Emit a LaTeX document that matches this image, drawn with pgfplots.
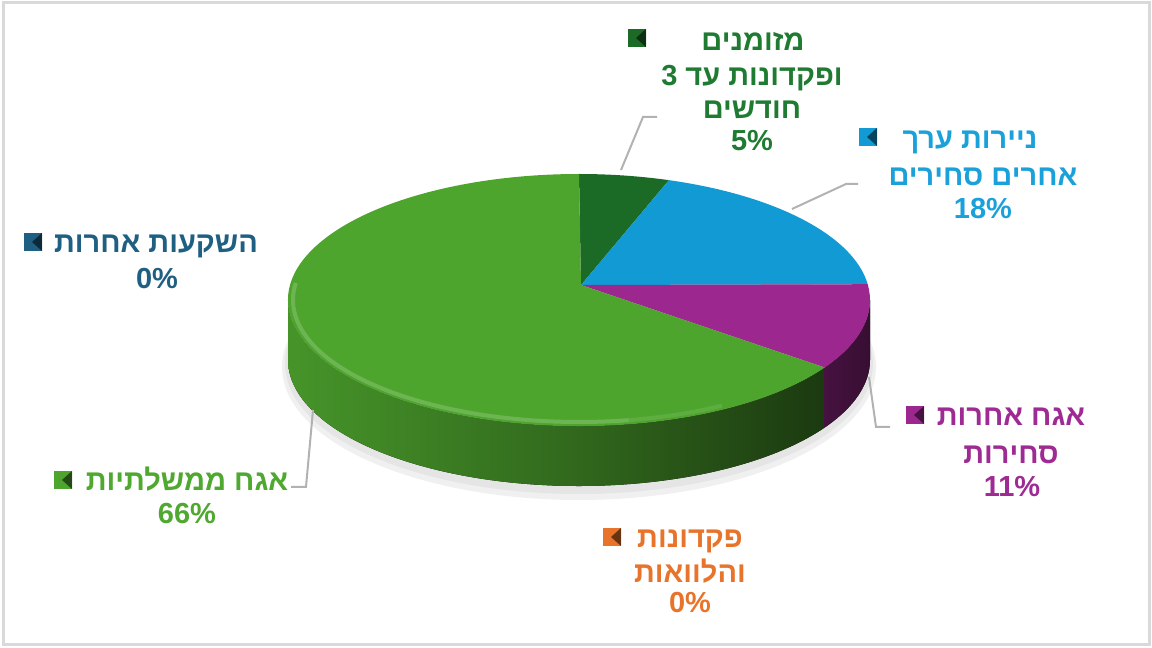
\documentclass[border=0pt]{standalone}
\usepackage{pgfplots}
\pgfplotsset{compat=1.18}
\usepackage{pgfplotstable}
\usepackage{fontspec}
\setmainfont{Liberation Sans}
\newfontfamily\heb[Script=Hebrew]{Liberation Sans}
\TeXXeTstate=1

\definecolor{dgreen}{HTML}{1B6B27}
\definecolor{pblue}{HTML}{119AD3}
\definecolor{ppurple}{HTML}{9C288F}
\definecolor{pgreen}{HTML}{4EA52E}
\definecolor{porange}{HTML}{E8732A}
\definecolor{pnavy}{HTML}{1F5F82}
\definecolor{tdgreen}{HTML}{1E7B31}
\definecolor{tblue}{HTML}{1BA1DA}
\definecolor{tpurple}{HTML}{9E2B93}
\definecolor{tgreen}{HTML}{4FA830}

% shares in percent, clockwise from 12 o'clock
\pgfplotstableread{
share
5
18
11
0
66
0
}\piedata

\def\Sa{90}
\pgfplotstablegetelem{0}{share}\of\piedata \pgfmathsetmacro\Ea{\Sa-3.6*\pgfplotsretval}
\pgfplotstablegetelem{1}{share}\of\piedata \pgfmathsetmacro\Eb{\Ea-3.6*\pgfplotsretval}
\pgfplotstablegetelem{2}{share}\of\piedata \pgfmathsetmacro\Ec{\Eb-3.6*\pgfplotsretval}
\pgfplotstablegetelem{3}{share}\of\piedata \pgfmathsetmacro\Ed{\Ec-3.6*\pgfplotsretval}
\pgfplotstablegetelem{4}{share}\of\piedata \pgfmathsetmacro\Ee{\Ed-3.6*\pgfplotsretval}
\pgfmathsetmacro\Edp{\Ed+360}

% pie radii: 145.5pt and 63pt, depth 30pt
% top face of one slice: start angle, end angle, colour
\newcommand\slice[3]{%
  \fill[#3] (axis cs:581,-285) -- ([shift={(#1:145.5pt and 63pt)}]C)
    arc[start angle=#1, end angle=#2, x radius=145.5pt, y radius=63pt] -- cycle;}
% legend key square
\newcommand\key[3]{%
  \fill[#3] ([shift={(-4.5pt,-4.5pt)}]axis cs:#1,-#2) rectangle ([shift={(4.5pt,4.5pt)}]axis cs:#1,-#2);
  \fill[black,opacity=.55] ([shift={(4.5pt,-4.5pt)}]axis cs:#1,-#2) -- ([shift={(4.5pt,4.5pt)}]axis cs:#1,-#2)
     -- ([shift={(-0.5pt,0pt)}]axis cs:#1,-#2) -- cycle;}

\tikzset{lab/.style={font=\bfseries\fontsize{14.5pt}{17pt}\selectfont,
  inner sep=0pt, text height=10.4pt, text depth=0pt, anchor=center}}

\begin{document}
\begin{tikzpicture}
\begin{axis}[
  x=0.5pt, y=0.5pt,
  xmin=0, xmax=1152, ymin=-648, ymax=0,
  hide axis, clip=false,
]
\path (axis cs:0,0) rectangle (axis cs:1152,-648);
\draw[black!15, line width=1.5pt] (axis cs:3,-3) rectangle (axis cs:1149,-645);

\coordinate (C) at (axis cs:579,-300);
\coordinate (D) at (axis cs:579,-360);

% shadow
\fill[black!6] ([yshift=-3.5pt]D) ellipse[x radius=148.5pt, y radius=66.5pt];
\fill[black!10] ([yshift=-2pt]D) ellipse[x radius=147pt, y radius=65pt];

% sides
\fill[left color=pgreen!90!black, right color=pgreen!35!black, middle color=pgreen!65!black]
  ([shift={(180:145.5pt and 63pt)}]C) arc[start angle=180, end angle=\Edp, x radius=145.5pt, y radius=63pt]
  -- ([shift={(\Edp:145.5pt and 63pt)}]D) arc[start angle=\Edp, end angle=180, x radius=145.5pt, y radius=63pt] -- cycle;
\fill[left color=ppurple!45!black, right color=ppurple!35!black]
  ([shift={(\Ec:145.5pt and 63pt)}]C) arc[start angle=\Ec, end angle=0, x radius=145.5pt, y radius=63pt]
  -- ([shift={(0:145.5pt and 63pt)}]D) arc[start angle=0, end angle=\Ec, x radius=145.5pt, y radius=63pt] -- cycle;

% top faces
\slice{\Sa}{\Ea}{dgreen}
\slice{\Ea}{\Eb}{pblue}
\slice{\Eb}{\Ec}{ppurple}
\slice{\Ed}{\Ee}{pgreen}

% bevel highlight
\draw[line width=2pt, color=pgreen!70!white, opacity=.6]
  ([shift={(172:143pt and 61pt)}]C) arc[start angle=172, end angle=280, x radius=143pt, y radius=61pt];
\draw[line width=2pt, color=pgreen!70!white, opacity=.3]
  ([shift={(280:143pt and 61pt)}]C) arc[start angle=280, end angle=300, x radius=143pt, y radius=61pt];

% leader lines
\draw[black!30, line width=1pt] (axis cs:621,-170) -- (axis cs:643,-117) -- (axis cs:657,-117);
\draw[black!30, line width=1pt] (axis cs:792,-209) -- (axis cs:846,-184) -- (axis cs:858,-184);
\draw[black!30, line width=1pt] (axis cs:869,-377) -- (axis cs:876,-427) -- (axis cs:890,-427);
\draw[black!30, line width=1pt] (axis cs:313,-410) -- (axis cs:306,-487) -- (axis cs:291,-487);

% labels
\key{637}{38}{dgreen}
\node[lab, text=tdgreen] at (axis cs:753,-40) {\heb\beginR מזומנים\endR};
\node[lab, text=tdgreen] at (axis cs:752,-75) {\heb\beginR ופקדונות עד 3\endR};
\node[lab, text=tdgreen] at (axis cs:752,-108) {\heb\beginR חודשים\endR};
\node[lab, text=tdgreen] at (axis cs:752,-140) {5\%};

\key{868}{137}{pblue}
\node[lab, text=tblue] at (axis cs:970,-138) {\heb\beginR ניירות ערך\endR};
\node[lab, text=tblue] at (axis cs:983,-175) {\heb\beginR אחרים סחירים\endR};
\node[lab, text=tblue] at (axis cs:983,-208) {18\%};

\key{915}{415}{ppurple}
\node[lab, text=tpurple] at (axis cs:1011,-415) {\heb\beginR אגח אחרות\endR};
\node[lab, text=tpurple] at (axis cs:1011,-453) {\heb\beginR סחירות\endR};
\node[lab, text=tpurple] at (axis cs:1012,-486) {11\%};

\key{33}{242}{pnavy}
\node[lab, text=pnavy] at (axis cs:156,-242) {\heb\beginR השקעות אחרות\endR};
\node[lab, text=pnavy] at (axis cs:157,-278) {0\%};

\key{63}{480}{pgreen}
\node[lab, text=tgreen] at (axis cs:187,-480) {\heb\beginR אגח ממשלתיות\endR};
\node[lab, text=tgreen] at (axis cs:187,-513) {66\%};

\key{612}{537}{porange}
\node[lab, text=porange] at (axis cs:690,-537) {\heb\beginR פקדונות\endR};
\node[lab, text=porange] at (axis cs:690,-572) {\heb\beginR והלוואות\endR};
\node[lab, text=porange] at (axis cs:690,-602) {0\%};
\end{axis}
\end{tikzpicture}
\end{document}
